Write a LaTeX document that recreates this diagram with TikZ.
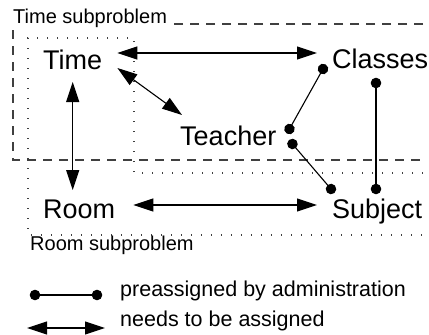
\documentclass[tikz,border=0pt]{standalone}
\usepackage{fontspec}
\setmainfont{Liberation Sans}
\usetikzlibrary{arrows.meta,calc}
\begin{document}
\begin{tikzpicture}[x=1pt,y=-1pt,
  lbl/.style={inner sep=0pt,anchor=base west,font=\fontsize{27}{32}\selectfont},
  small/.style={inner sep=0pt,anchor=base west,font=\fontsize{20}{24}\selectfont},
  legend/.style={inner sep=0pt,anchor=base west,font=\fontsize{21.5}{26}\selectfont},
  assign/.style={line width=1.1pt,{Triangle[length=20pt,width=13pt]}-{Triangle[length=20pt,width=13pt]}},
  pre/.style={line width=1.1pt,{Circle[length=10.5pt]}-{Circle[length=10.5pt]},shorten <=-5.25pt,shorten >=-5.25pt},
  tbox/.style={black!75,line width=1.1pt,dash pattern=on 9pt off 7pt},
  rbox/.style={black!75,line width=1.2pt,dash pattern=on 1.3pt off 8.7pt}]
\useasboundingbox (0,0) rectangle (429,335);
% subproblem boxes
\draw[tbox] (423,24) -- (13,24) -- (13,160) -- (423,160);
\draw[rbox] (423,173) -- (134,173) -- (134,38) -- (28,38) -- (28,235) -- (423,235);
\node[small,fill=white] (tsub) at (13,23) {Time subproblem};
\node[small] (rsub) at (30,250) {Room subproblem};
% nodes
\node[lbl] (Time) at (43,69) {Time};
\node[lbl] (Classes) at (332,68) {Classes};
\node[lbl] (Teacher) at (180,145) {Teacher};
\node[lbl] (Room) at (43,218) {Room};
\node[lbl] (Subject) at (332,218) {Subject};
% needs to be assigned
\draw[assign] ([shift={(15,-16)}]Time.base east) -- ([shift={(-15,-15)}]Classes.base west);
\draw[assign] ([shift={(15,-1)}]Time.base east) -- ([shift={(2,-30)}]Teacher.base west);
\draw[assign] ([shift={(0,13)}]Time.base) -- ($(Time.base |- Room.base)+(0,-28)$);
\draw[assign] ([shift={(18,-13)}]Room.base east) -- ([shift={(-15,-13)}]Subject.base west);
% preassigned
\draw[pre] ([shift={(-9,1)}]Classes.base west) -- ([shift={(13,-16)}]Teacher.base east);
\draw[pre] ([shift={(16,-1)}]Teacher.base east) -- ([shift={(-1,-29)}]Subject.base west);
\draw[pre] ([shift={(44,15)}]Classes.base west) -- ([shift={(44,-29)}]Subject.base west);
% legend
\coordinate (l1a) at (35,295);
\coordinate (l1b) at (97,295);
\coordinate (l2a) at (27,328);
\coordinate (l2b) at (105,328);
\draw[pre] (l1a) -- (l1b);
\draw[assign] (l2a) -- (l2b);
\node[legend] (t1) at (120,296) {preassigned by administration};
\node[legend] (t2) at (120,326) {needs to be assigned};
\end{tikzpicture}
\end{document}
